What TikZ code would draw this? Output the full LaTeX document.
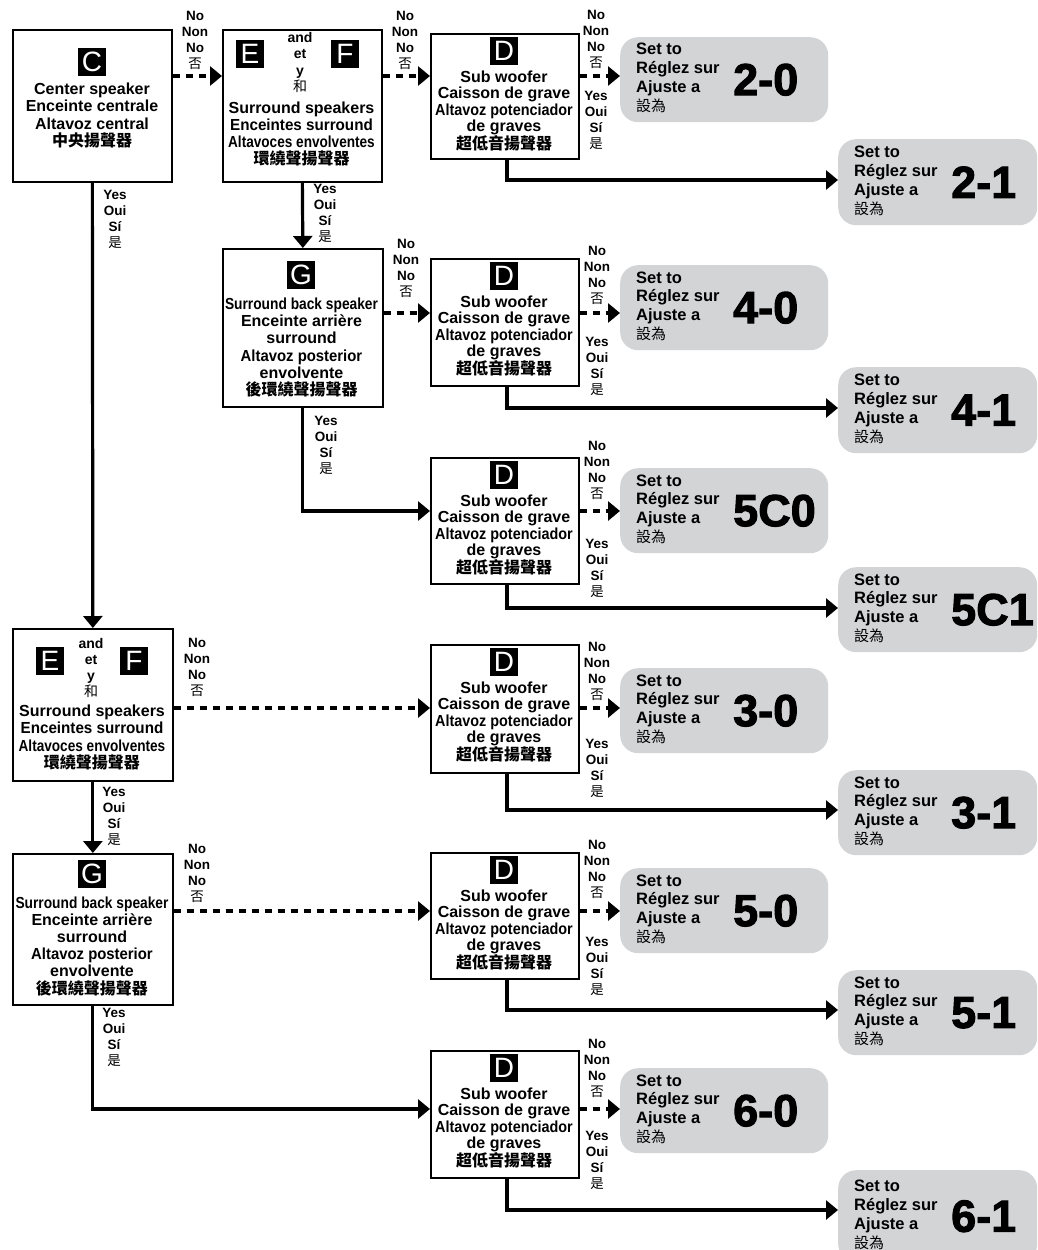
\documentclass[tikz,border=0pt]{standalone}
\usepackage{fontspec}
\usepackage{graphicx}
\setmainfont{Liberation Sans}
\newfontfamily\cjk{Noto Sans CJK TC}
\newfontfamily\heavy[FakeBold=2.2]{Liberation Sans Bold}
\usetikzlibrary{arrows.meta}
\definecolor{resgray}{RGB}{211,212,214}
\newcommand\squeeze[2]{\scalebox{#1}[1]{#2}}
\newcommand\cjkbox[1]{{\cjk\bfseries #1}}
\newcommand\cjklbl[1]{{\cjk\mdseries #1}}
\newcommand\nolbl{No\\Non\\No\\\cjklbl{否}}
\newcommand\yeslbl{Yes\\Oui\\S\'{\i}\\\cjklbl{是}}
\begin{document}
\begin{tikzpicture}[x=1pt,y=-1pt,
  mbox/.style={draw, line width=1.7pt, anchor=north west, inner sep=0pt},
  badge/.style={fill=black, text=white, minimum size=28pt, inner sep=0pt, font=\fontsize{28}{28}\selectfont},
  btxt/.style={align=center, inner sep=0pt, font=\bfseries\fontsize{16}{17.2}\selectfont},
  dtxt/.style={align=center, inner sep=0pt, font=\bfseries\fontsize{16}{16.4}\selectfont},
  andtxt/.style={align=center, inner sep=0pt, font=\bfseries\fontsize{14}{16.3}\selectfont},
  lbl/.style={align=center, inner sep=0pt, font=\bfseries\fontsize{13.5}{16}\selectfont},
  res/.style={fill=resgray, rounded corners=18pt, anchor=north west, inner sep=0pt},
  restxt/.style={align=left, anchor=west, inner sep=0pt, font=\bfseries\fontsize{16.5}{18.9}\selectfont},
  big/.style={anchor=west, inner sep=0pt, font=\heavy\fontsize{45}{45}\selectfont},
  yesarrow/.style={line width=3.2pt, -{Triangle[length=12pt,width=19pt]}},
  noarrow/.style={yesarrow, dash pattern=on 7.5pt off 5.5pt}
]
\fill[white] (0,0) rectangle (1037,1250);
\useasboundingbox (0,0) rectangle (1037,1250);

% row levels
\coordinate (y1) at (0,76);
\coordinate (y2) at (0,313);
\coordinate (y3) at (0,511);
\coordinate (y4) at (0,708);
\coordinate (y5) at (0,911);
\coordinate (y6) at (0,1109);
\coordinate (xv) at (507,0);

% ---------- main question boxes ----------
\node[mbox, minimum width=159pt, minimum height=152pt] (c) at (12,29) {};
\node[badge] at (92,62) {C};
\node[btxt] at (92,115.5) {Center speaker\\Enceinte centrale\\Altavoz central\\\cjkbox{中央揚聲器}};

\node[mbox, minimum width=159pt, minimum height=152pt] (ef1) at (222,29) {};
\node[badge] at (250,53.5) {E};
\node[badge] at (345,53.5) {F};
\node[andtxt] at (300,62.5) {and\\et\\y\\\cjklbl{和}};
\node[btxt] at (301.5,134) {Surround speakers\\\squeeze{0.95}{Enceintes surround}\\\squeeze{0.85}{Altavoces envolventes}\\\cjkbox{環繞聲揚聲器}};

\node[mbox, minimum width=160pt, minimum height=158pt] (g1) at (222,248) {};
\node[badge] at (301,274.5) {G};
\node[btxt] at (301.5,347.5) {\squeeze{0.86}{Surround back speaker}\\Enceinte arri\`ere\\surround\\\squeeze{0.93}{Altavoz posterior}\\envolvente\\\cjkbox{後環繞聲揚聲器}};

\node[mbox, minimum width=160pt, minimum height=152pt] (ef2) at (12,628) {};
\node[badge] at (50,661) {E};
\node[badge] at (134,661) {F};
\node[andtxt] at (91,668) {and\\et\\y\\\cjklbl{和}};
\node[btxt] at (92,737.5) {Surround speakers\\\squeeze{0.95}{Enceintes surround}\\\squeeze{0.85}{Altavoces envolventes}\\\cjkbox{環繞聲揚聲器}};

\node[mbox, minimum width=160pt, minimum height=151pt] (g2) at (12,853) {};
\node[badge] at (92,874) {G};
\node[btxt] at (92,946) {\squeeze{0.86}{Surround back speaker}\\Enceinte arri\`ere\\surround\\\squeeze{0.93}{Altavoz posterior}\\envolvente\\\cjkbox{後環繞聲揚聲器}};

% ---------- subwoofer boxes ----------
\foreach \n/\t/\h in {d1/33/125, d2/258/127, d3/457/126, d4/644/128, d5/852/126, d6/1050/127}{
  \node[mbox, minimum width=148pt, minimum height=\h pt] (\n) at (430,\t) {};
  \node[badge] at (504,\t+18) {D};
  \node[dtxt] at (504,\t+78) {Sub woofer\\Caisson de grave\\\squeeze{0.9}{Altavoz potenciador}\\de graves\\\cjkbox{超低音揚聲器}};
}

% ---------- result boxes ----------
\foreach \n/\t/\v/\h/\w/\x in {r20/37/2-0/85/208/620, r40/265/4-0/85/208/620, r50c/468/5C0/85/208/620, r30/668/3-0/85/208/620, r50/868/5-0/85/208/620, r60/1068/6-0/85/208/620,
  r21/139/2-1/86/199/838, r41/367/4-1/86/199/838, r51c/567/5C1/85/199/838, r31/770/3-1/85/199/838, r51/970/5-1/85/199/838, r61/1170/6-1/92/199/838}{
  \node[res, minimum width=\w pt, minimum height=\h pt] (\n) at (\x,\t) {};
  \node[restxt] at ([xshift=16pt,yshift=1.5pt]\n.west) {Set to\\R\'eglez sur\\Ajuste a\\{\mdseries\cjk\fontsize{15}{18}\selectfont 設為}};
  \node[big] at ([xshift=113pt]\n.west) {\v};
}

% ---------- connectors ----------
\draw[noarrow] (c.east |- y1) -- (ef1.west |- y1);
\draw[noarrow] (ef1.east |- y1) -- (d1.west |- y1);
\draw[yesarrow] (c.south) -- (ef2.north);
\draw[yesarrow] (ef1.south) -- (g1.north);
\draw[noarrow] (g1.east |- y2) -- (d2.west |- y2);
\draw[yesarrow] (g1.south) |- (d3.west |- y3);
\draw[noarrow] (ef2.east |- y4) -- (d4.west |- y4);
\draw[yesarrow] (ef2.south) -- (g2.north);
\draw[noarrow] (g2.east |- y5) -- (d5.west |- y5);
\draw[yesarrow] (g2.south) |- (d6.west |- y6);

\draw[noarrow] (d1.east |- y1) -- (r20.west |- y1);
\draw[noarrow] (d2.east |- y2) -- (r40.west |- y2);
\draw[noarrow] (d3.east |- y3) -- (r50c.west |- y3);
\draw[noarrow] (d4.east |- y4) -- (r30.west |- y4);
\draw[noarrow] (d5.east |- y5) -- (r50.west |- y5);
\draw[noarrow] (d6.east |- y6) -- (r60.west |- y6);

\draw[yesarrow] (d1.south -| xv) |- (r21.west |- 0,180);
\draw[yesarrow] (d2.south -| xv) |- (r41.west |- 0,408);
\draw[yesarrow] (d3.south -| xv) |- (r51c.west |- 0,608);
\draw[yesarrow] (d4.south -| xv) |- (r31.west |- 0,810);
\draw[yesarrow] (d5.south -| xv) |- (r51.west |- 0,1010);
\draw[yesarrow] (d6.south -| xv) |- (r61.west |- 0,1210);

% ---------- labels ----------
\foreach \x/\y in {195/40, 405/40, 596/39, 406/268.5, 597/275.5, 597/470, 197/667, 597/671, 197/873, 597/869.5, 597/1068}{
  \node[lbl] at (\x,\y) {\nolbl};
}
\foreach \x/\y in {596/120, 115/219, 325/213.5, 597/366.5, 326/445, 597/568, 597/768.5, 114/816, 597/966, 114/1037.5, 597/1160.5}{
  \node[lbl] at (\x,\y) {\yeslbl};
}
\end{tikzpicture}
\end{document}
